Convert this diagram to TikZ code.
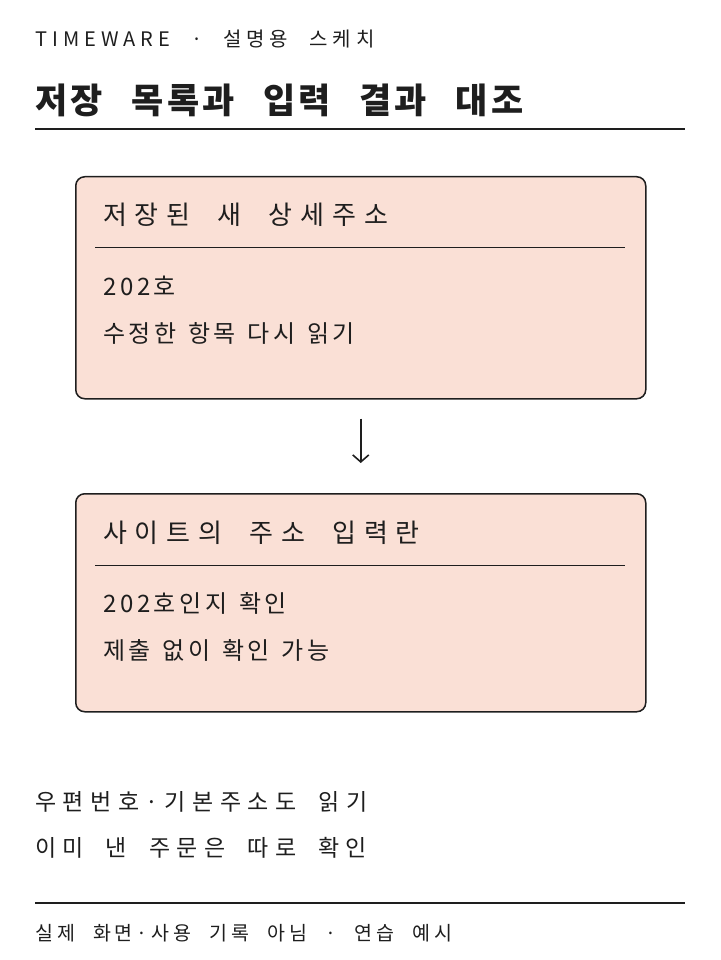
\documentclass[tikz,border=0pt]{standalone}
\usepackage{fontspec}
\setmainfont{Noto Sans CJK KR}
\newfontfamily\tagfont[LetterSpace=25,WordSpace=2.2]{Noto Sans CJK KR}
\newfontfamily\titlefont[LetterSpace=10,WordSpace=2.45]{Noto Sans CJK KR}
\newfontfamily\headfont[LetterSpace=30,WordSpace=2.0]{Noto Sans CJK KR}
\newfontfamily\entryfont[LetterSpace=15,WordSpace=1.3]{Noto Sans CJK KR}
\newfontfamily\notefont[LetterSpace=28,WordSpace=1.9]{Noto Sans CJK KR}
\newfontfamily\footfont[LetterSpace=20,WordSpace=2.2]{Noto Sans CJK KR}
\usepackage{tikz}
\usetikzlibrary{arrows.meta,positioning}
\definecolor{peach}{HTML}{FAE0D6}
\definecolor{ink}{HTML}{1E1E1E}

\begin{document}
\begin{tikzpicture}[x=1pt,y=-1pt,
    card/.style={draw=ink,fill=peach,line width=1.5pt,rounded corners=9pt,minimum width=570pt,minimum height=222pt,anchor=north west,inner sep=0pt},
    txt/.style={anchor=west,inner sep=0pt,text=ink},
    heading/.style={txt,font=\headfont\fontsize{26}{30}\selectfont},
    entry/.style={txt,font=\entryfont\fontsize{24}{28}\selectfont},
    note/.style={txt,font=\notefont\fontsize{23}{27}\selectfont},
    rule/.style={draw=ink,line width=1.5pt}]

\useasboundingbox (0,0) rectangle (720,960);

% Top lines
\node[txt,font=\tagfont\fontsize{20}{24}\selectfont] (tag) at (35,39) {TIMEWARE · 설명용 스케치};
\node[txt,font=\titlefont\bfseries\fontsize{35}{40}\selectfont] (title) at (35,100) {저장 목록과 입력 결과 대조};
\draw[rule] (35,129) -- (685,129);

% Saved detail address
\node[card] (saved) at (75,176) {};
\node[heading] (savedhead) at (103,215) {저장된 새 상세주소};
\draw[line width=1pt,draw=ink] (95,247) -- (625,247);
\node[entry] (saveda) at (103,286) {202호};
\node[entry] (savedb) at (103,333) {수정한 항목 다시 읽기};

% Site input field
\node[card,minimum height=218pt] (site) at (75,493) {};
\node[heading] (sitehead) at (103,533) {사이트의 주소 입력란};
\draw[line width=1pt,draw=ink] (95,565) -- (625,565);
\node[entry] (sitea) at (103,603) {202호인지 확인};
\node[entry] (siteb) at (103,650) {제출 없이 확인 가능};

% saved -> site
\draw[draw=ink,line width=1.6pt,-{Straight Barb[length=7pt,width=16pt]},shorten <=19pt,shorten >=30pt] (saved.south) -- (site.north);

% Notes below
\node[note] (notea) at (35,802) {우편번호·기본주소도 읽기};
\node[note] (noteb) at (35,848) {이미 낸 주문은 따로 확인};
\draw[rule] (35,903) -- (685,903);
\node[txt,font=\footfont\fontsize{19.5}{24}\selectfont] (foot) at (35,933) {실제 화면·사용 기록 아님 · 연습 예시};

\end{tikzpicture}
\end{document}
